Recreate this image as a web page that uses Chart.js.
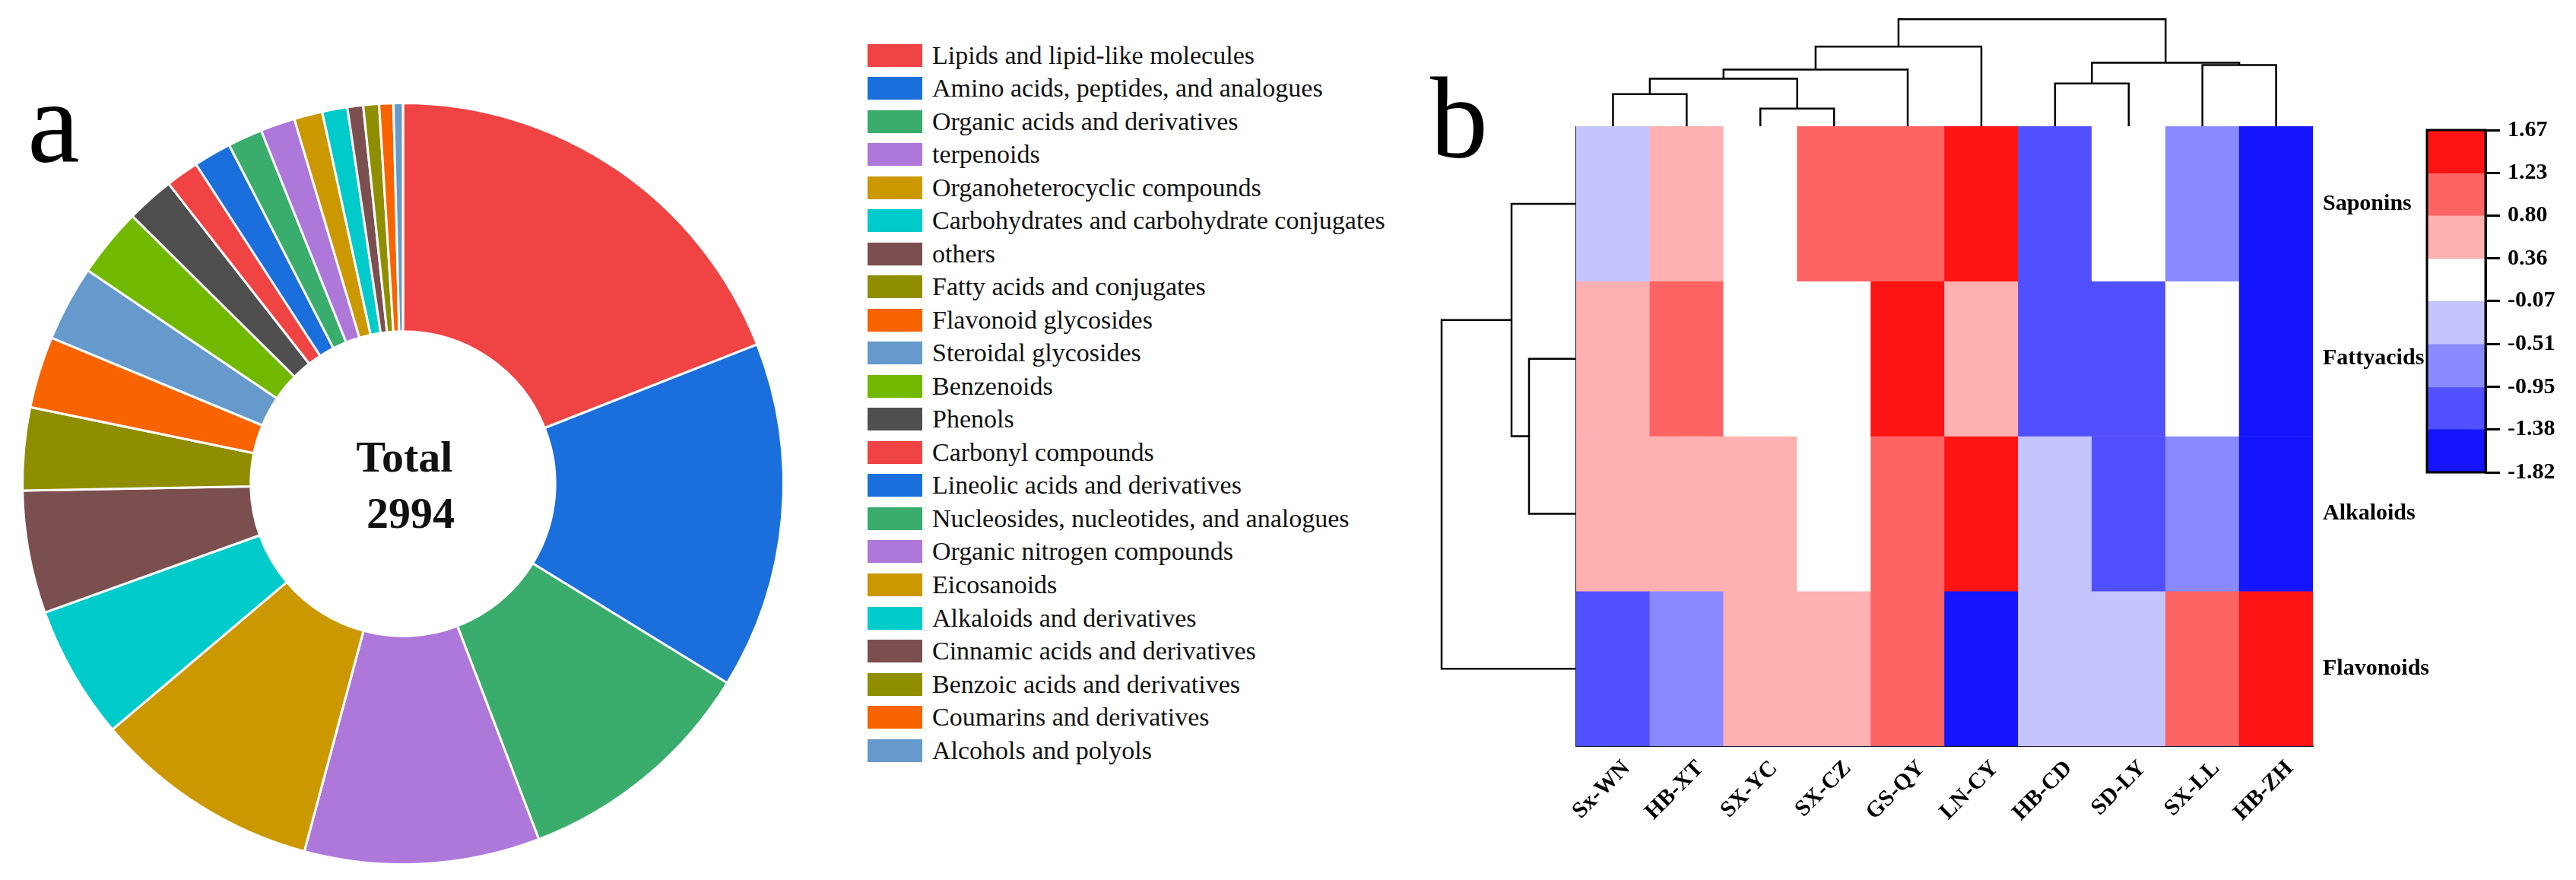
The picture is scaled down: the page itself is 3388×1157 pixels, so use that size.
<!DOCTYPE html>
<html lang="en">
<head>
    <meta charset="UTF-8">
    <title>Metabolite classes and heatmap</title>
    <script src="https://cdn.jsdelivr.net/npm/chart.js"></script>
    <style>
        body {
            margin: 0;
            padding: 0;
            width: 3388px;
            height: 1157px;
            overflow: hidden;
            background: #fff;
            font-family: "Liberation Serif", serif;
            position: relative;
        }

        .box {
            position: absolute;
        }

        .panel-letter {
            position: absolute;
            font-family: "Liberation Serif", serif;
            line-height: 1;
            color: #000;
        }

        #legend {
            position: absolute;
            left: 1141px;
            top: 51px;
        }

        .legend-item {
            height: 43.52px;
            display: flex;
            align-items: center;
            font-size: 34px;
            color: #111;
            white-space: nowrap;
        }

        .legend-swatch {
            width: 72px;
            height: 30px;
            margin-right: 13px;
        }
    </style>
</head>
<body>
    <div class="panel-letter" style="left:36px; top:83px; font-size:155px;">a</div>
    <div class="box" style="left:0px; top:134px; width:1060px; height:1004px;"><canvas id="donut"></canvas></div>
    <div id="legend"></div>

    <div class="panel-letter" style="left:1881px; top:80px; font-size:152px;">b</div>
    <div class="box" style="left:2073px; top:0px; width:969px; height:167px;"><canvas id="colTree"></canvas></div>
    <div class="box" style="left:1880px; top:166px; width:193px; height:815px;"><canvas id="rowTree"></canvas></div>
    <div class="box" style="left:2063px; top:166px; width:1139px; height:991px;"><canvas id="heat"></canvas></div>
    <div class="box" style="left:3182px; top:140px; width:206px; height:511px;"><canvas id="scale"></canvas></div>

    <script>
        // panel a: compound classes
        const classNames = [
            'Lipids and lipid-like molecules', 'Amino acids, peptides, and analogues',
            'Organic acids and derivatives', 'terpenoids', 'Organoheterocyclic compounds',
            'Carbohydrates and carbohydrate conjugates', 'others', 'Fatty acids and conjugates',
            'Flavonoid glycosides', 'Steroidal glycosides', 'Benzenoids', 'Phenols',
            'Carbonyl compounds', 'Lineolic acids and derivatives',
            'Nucleosides, nucleotides, and analogues', 'Organic nitrogen compounds',
            'Eicosanoids', 'Alkaloids and derivatives', 'Cinnamic acids and derivatives',
            'Benzoic acids and derivatives', 'Coumarins and derivatives', 'Alcohols and polyols'
        ];
        const classCounts = [570, 441, 312, 299, 289, 170, 156, 105, 91, 96, 88, 61,
                             42, 48, 44, 44, 36, 32, 20, 20, 18, 12];
        const classColors = [
            '#F04343', '#1B6FDC', '#3AAC6C', '#AE78DB', '#CB9800', '#00CBCB',
            '#7B4F4F', '#8E8E00', '#FA6400', '#6699CC', '#71B800', '#4F4F4F',
            '#F04343', '#1B6FDC', '#3AAC6C', '#AE78DB', '#CB9800', '#00CBCB',
            '#7B4F4F', '#8E8E00', '#FA6400', '#6699CC'
        ];

        // panel b: heatmap
        const sampleNames = ['Sx-WN', 'HB-XT', 'SX-YC', 'SX-CZ', 'GS-QY', 'LN-CY', 'HB-CD', 'SD-LY', 'SX-LL', 'HB-ZH'];
        const groupNames = ['Saponins', 'Fattyacids', 'Alkaloids', 'Flavonoids'];
        const saponins   = [-0.32, 0.52, 0.11, 1.05, 0.98, 1.48, -1.16, 0.02, -0.71, -1.76];
        const fattyacids = [0.55, 1.02, 0.18, 0.05, 1.61, 0.47, -1.24, -1.19, -0.03, -1.82];
        const alkaloids  = [0.48, 0.51, 0.44, 0.12, 0.96, 1.52, -0.28, -1.12, -0.66, -1.67];
        const flavonoids = [-1.21, -0.78, 0.39, 0.42, 0.93, -1.70, -0.41, -0.35, 1.08, 1.64];

        // colour key, top to bottom
        const scaleTicks = [1.67, 1.23, 0.80, 0.36, -0.07, -0.51, -0.95, -1.38, -1.82];
        const scaleColors = ['#FF1414', '#FF6464', '#FFB0B0', '#FFFFFF', '#C4C4FF', '#8A8AFF', '#5050FF', '#1414FF'];

        // cluster trees: [child a, child b, distance]; leaves are numbered in display order
        const sampleMerges = [[0, 1, 4.3], [2, 3, 2.4], [10, 11, 6.3], [12, 4, 7.5], [13, 5, 10.5],
                              [6, 7, 5.7], [8, 9, 8.1], [15, 16, 8.4], [14, 17, 14.1]];
        const groupMerges = [[1, 2, 6.2], [0, 4, 8.5], [5, 3, 17.7]];

        const serif = '"Liberation Serif", serif';
        Chart.defaults.font.family = serif;
        Chart.defaults.color = '#000';

        function colorFor(v) {
            for (let i = 0; i < scaleColors.length; i++) {
                if (v >= scaleTicks[i + 1]) return scaleColors[i];
            }
            return scaleColors[scaleColors.length - 1];
        }

        // stop axes from pushing the plot area in for overhanging labels
        function noPad(s) {
            s.paddingLeft = 0;
            s.paddingRight = 0;
            s.paddingTop = 0;
            s.paddingBottom = 0;
        }

        function treeLinks(leafCount, merges) {
            const pos = [];
            const hgt = [];
            for (let i = 0; i < leafCount; i++) {
                pos[i] = i + 0.5;
                hgt[i] = 0;
            }
            return merges.map(function (m, k) {
                const a = m[0], b = m[1], h = m[2];
                pos[leafCount + k] = (pos[a] + pos[b]) / 2;
                hgt[leafCount + k] = h;
                return [[pos[a], hgt[a]], [pos[a], h], [pos[b], h], [pos[b], hgt[b]]];
            });
        }

        function treeDatasets(links, horizontal) {
            return links.map(function (link) {
                return {
                    data: link.map(p => horizontal ? { x: p[1], y: p[0] } : { x: p[0], y: p[1] }),
                    showLine: true,
                    borderColor: '#000',
                    borderWidth: 2.5,
                    pointRadius: 0,
                    tension: 0,
                    clip: false
                };
            });
        }

        // ---- donut
        const total = classCounts.reduce((s, v) => s + v, 0);
        const centerText = {
            id: 'centerText',
            afterDraw(chart) {
                const arc = chart.getDatasetMeta(0).data[0];
                const ctx = chart.ctx;
                ctx.save();
                ctx.font = 'bold 58px ' + serif;
                ctx.fillStyle = '#111';
                ctx.textAlign = 'center';
                ctx.textBaseline = 'alphabetic';
                ctx.fillText('Total', arc.x + 2, arc.y - 16);
                ctx.fillText(String(total), arc.x + 10, arc.y + 58);
                ctx.restore();
            }
        };

        new Chart(document.getElementById('donut'), {
            type: 'doughnut',
            data: {
                labels: classNames,
                datasets: [{
                    data: classCounts,
                    backgroundColor: classColors,
                    borderColor: '#fff',
                    borderWidth: 3
                }]
            },
            options: {
                responsive: true,
                maintainAspectRatio: false,
                animation: false,
                cutout: '40%',
                plugins: { legend: { display: false }, tooltip: { enabled: false } }
            },
            plugins: [centerText]
        });

        const legend = document.getElementById('legend');
        classNames.forEach(function (name, i) {
            const row = document.createElement('div');
            row.className = 'legend-item';
            const sw = document.createElement('span');
            sw.className = 'legend-swatch';
            sw.style.background = classColors[i];
            row.appendChild(sw);
            row.appendChild(document.createTextNode(name));
            legend.appendChild(row);
        });

        // ---- sample tree (top)
        new Chart(document.getElementById('colTree'), {
            type: 'scatter',
            data: { datasets: treeDatasets(treeLinks(sampleNames.length, sampleMerges), false) },
            options: {
                responsive: true,
                maintainAspectRatio: false,
                animation: false,
                plugins: { legend: { display: false }, tooltip: { enabled: false } },
                scales: {
                    x: {
                        min: 0, max: sampleNames.length,
                        ticks: { display: false },
                        grid: { display: false },
                        border: { display: true, color: '#000', width: 2.5 },
                        afterFit: s => { noPad(s); s.height = 0; }
                    },
                    y: { display: false, min: 0, max: 16.6 }
                }
            }
        });

        // ---- group tree (left)
        new Chart(document.getElementById('rowTree'), {
            type: 'scatter',
            data: { datasets: treeDatasets(treeLinks(groupNames.length, groupMerges), true) },
            options: {
                responsive: true,
                maintainAspectRatio: false,
                animation: false,
                plugins: { legend: { display: false }, tooltip: { enabled: false } },
                scales: {
                    x: { display: false, min: 0, max: 19.3, reverse: true },
                    y: { display: false, min: 0, max: groupNames.length, reverse: true }
                }
            }
        });

        // ---- heatmap cells
        const heatRows = [saponins, fattyacids, alkaloids, flavonoids];
        new Chart(document.getElementById('heat'), {
            type: 'bar',
            data: {
                labels: sampleNames,
                datasets: heatRows.map(function (vals, r) {
                    return {
                        label: groupNames[r],
                        data: vals.map(() => 1),
                        backgroundColor: vals.map(colorFor),
                        borderWidth: 0,
                        barPercentage: 1,
                        categoryPercentage: 1,
                        yAxisID: 'y'
                    };
                })
            },
            options: {
                responsive: true,
                maintainAspectRatio: false,
                animation: false,
                plugins: { legend: { display: false }, tooltip: { enabled: false } },
                scales: {
                    x: {
                        stacked: true,
                        grid: { display: false },
                        border: { display: true, color: '#1a1a3a', width: 2 },
                        ticks: {
                            autoSkip: false, maxRotation: 45, minRotation: 45, labelOffset: 18,
                            font: { size: 30, weight: 'bold' }, color: '#000', padding: 4
                        },
                        afterFit: s => { noPad(s); s.height = 176; }
                    },
                    y: {
                        stacked: true,
                        min: 0, max: groupNames.length,
                        reverse: true,
                        ticks: { display: false },
                        grid: { display: false },
                        border: { display: true, color: '#1a1a3a', width: 2 },
                        afterFit: s => { noPad(s); s.width = 10; }
                    },
                    rows: {
                        type: 'category',
                        position: 'right',
                        labels: groupNames,
                        offset: true,
                        grid: { display: false, drawTicks: false },
                        border: { display: false },
                        ticks: { font: { size: 30, weight: 'bold' }, color: '#000', padding: 13 },
                        afterFit: s => { noPad(s); s.width = 160; }
                    }
                }
            }
        });

        // ---- colour key
        const keyFrame = {
            id: 'keyFrame',
            afterDraw(chart) {
                const a = chart.chartArea;
                const ctx = chart.ctx;
                ctx.save();
                ctx.strokeStyle = '#000';
                ctx.lineWidth = 3;
                ctx.strokeRect(a.left, a.top, a.right - a.left, a.bottom - a.top);
                ctx.restore();
            }
        };

        new Chart(document.getElementById('scale'), {
            type: 'bar',
            data: {
                labels: [''],
                datasets: scaleColors.map(function (c, i) {
                    return {
                        data: [[scaleTicks[i + 1], scaleTicks[i]]],
                        backgroundColor: c,
                        borderWidth: 0,
                        barPercentage: 1,
                        categoryPercentage: 1,
                        grouped: false
                    };
                })
            },
            options: {
                responsive: true,
                maintainAspectRatio: false,
                animation: false,
                layout: { padding: { top: 31, bottom: 30, left: 10 } },
                plugins: { legend: { display: false }, tooltip: { enabled: false } },
                scales: {
                    x: { display: false },
                    y: {
                        position: 'right',
                        min: scaleTicks[scaleTicks.length - 1],
                        max: scaleTicks[0],
                        afterBuildTicks: s => { s.ticks = scaleTicks.map(v => ({ value: v })); },
                        grid: { drawOnChartArea: false, drawTicks: true, tickLength: 19, color: '#000', lineWidth: 3 },
                        border: { display: true, color: '#000', width: 3 },
                        ticks: {
                            callback: v => v.toFixed(2),
                            font: { size: 30, weight: 'bold' }, color: '#000', padding: 10
                        },
                        afterFit: s => { noPad(s); s.width = 119; }
                    }
                }
            },
            plugins: [keyFrame]
        });
    </script>
</body>
</html>
